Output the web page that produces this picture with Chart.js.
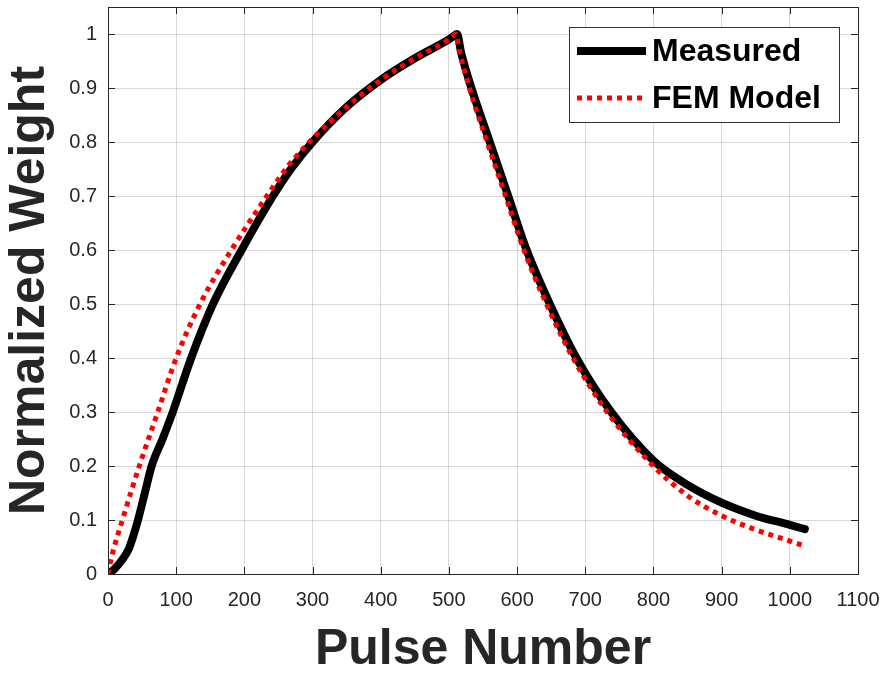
<!DOCTYPE html>
<html>
<head>
<meta charset="utf-8">
<script src="https://cdn.jsdelivr.net/npm/chart.js@4"></script>
<style>
  html, body { margin: 0; padding: 0; background: #fff; }
  #wrap { width: 889px; height: 675px; }
</style>
</head>
<body>
<div id="wrap"><canvas id="chart" width="889" height="675"></canvas></div>
<script>
// values
const measuredPulse = [0, 10, 20, 30, 37, 44, 54, 64, 80, 95, 122, 154, 196, 242, 270, 300, 350, 400, 450, 500, 507, 512,
  518, 533, 560, 587, 614, 648, 687, 738, 800, 850, 900, 950, 1000, 1022];
const measuredWeight = [0, 0.01, 0.025, 0.045, 0.07, 0.1, 0.15, 0.2, 0.25, 0.3, 0.4, 0.5, 0.6, 0.7, 0.753, 0.8, 0.865, 0.915, 0.955, 0.99, 0.996, 1.0,
  0.965, 0.9, 0.8, 0.7, 0.6, 0.5, 0.4, 0.3, 0.21, 0.165, 0.132, 0.108, 0.091, 0.083];

const femPulse = [0, 5, 22, 47, 73, 100, 135, 181, 233, 265, 300, 350, 400, 450, 500, 505, 510,
  516, 530, 556, 583, 610, 643, 682, 732, 800, 850, 900, 950, 1000, 1022];
const femWeight = [0, 0.03, 0.104, 0.204, 0.3, 0.4, 0.5, 0.6, 0.7, 0.757, 0.806, 0.865, 0.915, 0.955, 0.99, 0.995, 1.0,
  0.965, 0.9, 0.8, 0.7, 0.6, 0.5, 0.4, 0.3, 0.2, 0.145, 0.108, 0.082, 0.061, 0.052];

const xTickValues = [0, 100, 200, 300, 400, 500, 600, 700, 800, 900, 1000, 1100];
const yTickValues = [0, 0.1, 0.2, 0.3, 0.4, 0.5, 0.6, 0.7, 0.8, 0.9, 1];

const toPoints = (xs, ys) => xs.map((x, i) => ({ x: x, y: ys[i] }));

const axisColor = "#262626";
const tickFont = { family: "'Liberation Sans', Arial, sans-serif", size: 20 };

// no extra room for the end labels, the plot box is fixed
const noPadding = s => { s.paddingLeft = 0; s.paddingRight = 0; s.paddingTop = 0; s.paddingBottom = 0; };

// box round the plot, inward tick marks on all four sides, legend in the corner
const matlabBox = {
  id: "matlabBox",
  afterDatasetsDraw(chart) {
    const { ctx, chartArea: a, scales } = chart;
    ctx.save();
    ctx.strokeStyle = axisColor;
    ctx.lineWidth = 1;
    const len = 7;
    ctx.beginPath();
    xTickValues.forEach(v => {
      const px = Math.round(scales.x.getPixelForValue(v)) + 0.5;
      ctx.moveTo(px, a.bottom); ctx.lineTo(px, a.bottom - len);
      ctx.moveTo(px, a.top); ctx.lineTo(px, a.top + len);
    });
    yTickValues.forEach(v => {
      const py = Math.round(scales.y.getPixelForValue(v)) + 0.5;
      ctx.moveTo(a.left, py); ctx.lineTo(a.left + len, py);
      ctx.moveTo(a.right, py); ctx.lineTo(a.right - len, py);
    });
    ctx.stroke();
    ctx.strokeRect(Math.round(a.left) + 0.5, Math.round(a.top) + 0.5,
      Math.round(a.right - a.left), Math.round(a.bottom - a.top));

    // legend
    const bx = 569.5, by = 27.5, bw = 270, bh = 95;
    ctx.fillStyle = "#fff";
    ctx.fillRect(bx, by, bw, bh);
    ctx.strokeStyle = "#333";
    ctx.strokeRect(bx, by, bw, bh);
    const rows = [51, 98];
    chart.data.datasets.forEach((ds, i) => {
      const y = rows[i];
      ctx.save();
      ctx.strokeStyle = ds.borderColor;
      ctx.lineWidth = ds.borderWidth;
      ctx.setLineDash(ds.borderDash || []);
      ctx.lineCap = "butt";
      ctx.beginPath();
      ctx.moveTo(577, y); ctx.lineTo(646, y);
      ctx.stroke();
      ctx.restore();
      ctx.fillStyle = "#000";
      ctx.font = "bold 32px 'Liberation Sans', Arial, sans-serif";
      ctx.textBaseline = "middle";
      ctx.fillText(ds.label, 652, y + 1);
    });
    ctx.restore();
  }
};

new Chart(document.getElementById("chart"), {
  type: "line",
  data: {
    datasets: [
      {
        label: "Measured",
        data: toPoints(measuredPulse, measuredWeight),
        borderColor: "#000",
        borderWidth: 8,
        borderCapStyle: "round",
        borderJoinStyle: "round",
        pointRadius: 0,
        cubicInterpolationMode: "monotone",
        order: 2
      },
      {
        label: "FEM Model",
        data: toPoints(femPulse, femWeight),
        borderColor: "#ff0000",
        borderWidth: 5,
        borderDash: [5, 5],
        pointRadius: 0,
        cubicInterpolationMode: "monotone",
        order: 1
      }
    ]
  },
  options: {
    responsive: false,
    animation: false,
    layout: { padding: { top: 7, right: 31, left: 0, bottom: 0 } },
    plugins: { legend: { display: false }, tooltip: { enabled: false } },
    scales: {
      x: {
        type: "linear",
        min: 0,
        max: 1100,
        afterBuildTicks: s => { s.ticks = xTickValues.map(v => ({ value: v })); },
        afterFit: s => { s.height = 101; noPadding(s); },
        grid: { color: "rgba(0,0,0,0.15)", drawTicks: false },
        border: { display: false },
        ticks: { color: axisColor, font: tickFont, padding: 14, maxRotation: 0, callback: v => String(v) },
        title: {
          display: true,
          text: "Pulse Number",
          color: axisColor,
          font: { family: "'Liberation Sans', Arial, sans-serif", size: 50, weight: "bold", lineHeight: 1 },
          padding: 0
        }
      },
      y: {
        type: "linear",
        min: 0,
        max: 1.05,
        afterBuildTicks: s => { s.ticks = yTickValues.map(v => ({ value: v })); },
        afterFit: s => { s.width = 108; noPadding(s); },
        grid: { color: "rgba(0,0,0,0.15)", drawTicks: false },
        border: { display: false },
        ticks: { color: axisColor, font: tickFont, padding: 11, callback: v => String(Math.round(v * 10) / 10) },
        title: {
          display: true,
          text: "Normalized Weight",
          color: axisColor,
          font: { family: "'Liberation Sans', Arial, sans-serif", size: 50, weight: "bold", lineHeight: 1.2 },
          padding: 0
        }
      }
    }
  },
  plugins: [matlabBox]
});
</script>
</body>
</html>
